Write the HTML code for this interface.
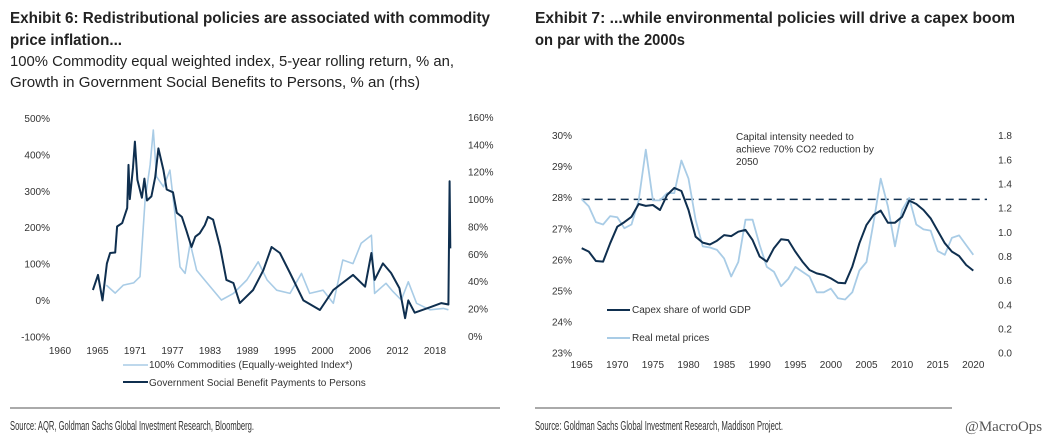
<!DOCTYPE html>
<html><head><meta charset="utf-8"><style>
html,body{margin:0;padding:0;background:#fff;}
svg{display:block;font-family:"Liberation Sans",sans-serif;}
</style></head><body>
<svg id="c" width="1063" height="443" viewBox="0 0 1063 443">
<g font-family="'Liberation Sans',sans-serif" fill="#222">
<text x="10" y="23" font-size="16" font-weight="bold" textLength="480" lengthAdjust="spacingAndGlyphs">Exhibit 6: Redistributional policies are associated with commodity</text>
<text x="10" y="45" font-size="16" font-weight="bold" textLength="112" lengthAdjust="spacingAndGlyphs">price inflation...</text>
<text x="10" y="66" font-size="15" textLength="444" lengthAdjust="spacingAndGlyphs">100% Commodity equal weighted index, 5-year rolling return, % an,</text>
<text x="10" y="87" font-size="15" textLength="410" lengthAdjust="spacingAndGlyphs">Growth in Government Social Benefits to Persons, % an (rhs)</text>
</g>
<g font-family="'Liberation Sans',sans-serif" fill="#222">
<text x="535" y="23" font-size="16" font-weight="bold" textLength="480" lengthAdjust="spacingAndGlyphs">Exhibit 7: ...while environmental policies will drive a capex boom</text>
<text x="535" y="45" font-size="16" font-weight="bold" textLength="150" lengthAdjust="spacingAndGlyphs">on par with the 2000s</text>
</g>
<g id="left"></g>
<g id="right"></g>
<line x1="10" y1="408" x2="500" y2="408" stroke="#555" stroke-width="1"/>
<line x1="535" y1="408" x2="952" y2="408" stroke="#555" stroke-width="1"/>
<text x="10" y="430" font-size="12.5" fill="#333" textLength="244" lengthAdjust="spacingAndGlyphs">Source: AQR, Goldman Sachs Global Investment Research, Bloomberg.</text>
<text x="535" y="430" font-size="12.5" fill="#333" textLength="248" lengthAdjust="spacingAndGlyphs">Source: Goldman Sachs Global Investment Research, Maddison Project.</text>
<text x="965" y="431" font-size="15" fill="#555" font-family="'Liberation Serif',serif">@MacroOps</text>
</svg>
<script>
// ---- Exhibit 6 data ----
const e6XTicks = ["1960","1965","1971","1977","1983","1989","1995","2000","2006","2012","2018"];
const e6LeftTicks = [500,400,300,200,100,0,-100];
const e6RightTicks = [160,140,120,100,80,60,40,20,0];
const commYears = [1966.3,1967.7,1969.0,1970.6,1971.6,1972.4,1973.2,1973.7,1974.2,1975.3,1976.3,1977.1,1977.9,1978.7,1979.5,1980.5,1982.0,1984.4,1986.3,1988.4,1990.2,1991.6,1993.1,1995.2,1997.0,1998.3,2000.4,2002.0,2003.5,2005.1,2006.4,2008.0,2008.5,2010.3,2011.4,2012.7,2013.8,2015.1,2017.2,2019.3,2020.1];
const commValues = [41,19,41,47,64,275,371,467,339,311,357,238,91,73,156,82,50,0,18,55,105,55,27,18,73,18,27,-9,110,100,156,178,18,46,23,0,50,-9,-27,-23,-27];
const govYears = [1964.2,1965.0,1965.7,1966.4,1966.9,1967.7,1968.0,1968.8,1969.6,1969.8,1970.0,1970.5,1970.8,1971.2,1971.9,1972.3,1972.7,1973.4,1974.0,1974.5,1975.3,1975.8,1976.8,1977.4,1978.2,1978.9,1979.7,1980.3,1981.0,1981.8,1982.3,1983.1,1984.2,1985.2,1986.3,1987.3,1989.4,1991.0,1992.3,1993.6,1995.2,1997.3,1999.9,2002.0,2005.1,2007.0,2008.0,2008.5,2009.8,2011.1,2012.4,2013.3,2013.8,2014.8,2017.2,2019.0,2020.1,2020.3,2020.4];
const govValues = [33.6,44.6,26,53,60.6,61,80,82.5,93.5,125,100,123,142,114,101,115,99,102,116,137,121,107,105,90,87,77,65,72.5,75,81,87,85,65,41,38.7,24,33.6,48,65,60.6,46,26,19,33.6,44.6,36,60.6,41,53,46,35,13,26,17,21,24,23,113,64];
// ---- Exhibit 7 data ----
const e7XTicks = [1965,1970,1975,1980,1985,1990,1995,2000,2005,2010,2015,2020];
const e7LeftTicks = [30,29,28,27,26,25,24,23];
const e7RightTicks = [1.8,1.6,1.4,1.2,1.0,0.8,0.6,0.4,0.2,0.0];
const capexYears = [1965,1966,1967,1968,1969,1970,1971,1972,1973,1974,1975,1976,1977,1978,1979,1980,1981,1982,1983,1984,1985,1986,1987,1988,1989,1990,1991,1992,1993,1994,1995,1996,1997,1998,1999,2000,2001,2002,2003,2004,2005,2006,2007,2008,2009,2010,2011,2012,2013,2014,2015,2016,2017,2018,2019,2020];
const capexValues = [26.36,26.25,25.95,25.93,26.52,27.05,27.2,27.37,27.78,27.72,27.75,27.59,28.07,28.3,28.2,27.59,26.73,26.54,26.48,26.6,26.78,26.75,26.89,26.95,26.62,26.09,25.93,26.36,26.65,26.62,26.25,25.93,25.66,25.55,25.5,25.39,25.25,25.23,25.77,26.52,27.11,27.43,27.57,27.18,27.18,27.37,27.89,27.78,27.59,27.32,26.92,26.52,26.25,26.11,25.82,25.64];
const metalYears = capexYears;
const metalValues = [1.27,1.21,1.08,1.06,1.13,1.12,1.03,1.06,1.26,1.68,1.26,1.26,1.32,1.32,1.59,1.44,1.1,0.88,0.87,0.85,0.78,0.63,0.75,1.1,1.1,0.89,0.71,0.67,0.55,0.61,0.71,0.67,0.63,0.5,0.5,0.53,0.45,0.44,0.5,0.68,0.75,1.08,1.44,1.21,0.88,1.18,1.28,1.06,1.02,1.01,0.84,0.81,0.95,0.97,0.89,0.81];
const targetCapex = 27.93;

const NS = "http://www.w3.org/2000/svg";
function mk(parent, tag, attrs, txt){
  const e = document.createElementNS(NS, tag);
  for (const k in attrs) e.setAttribute(k, attrs[k]);
  if (txt !== undefined) e.textContent = txt;
  parent.appendChild(e);
  return e;
}
function pathD(xs, ys, fx, fy){
  return xs.map((x,i)=>(i?"L":"M")+fx(x).toFixed(1)+","+fy(ys[i]).toFixed(1)).join("");
}

// ---- Exhibit 6 ----
const L = document.getElementById("left");
const x6 = y => 98 + (y - 1965) * (435 - 98) / (2018 - 1965);
const yl6 = v => 300 - v * 0.364;
const yr6 = v => 336 - v * 1.369;
e6LeftTicks.forEach(v => {
  const t = mk(L, "text", {x: 50, y: yl6(v) + 4, "font-size": 10, "text-anchor": "end", fill: "#333"}, v + "%");
  
  
});
e6RightTicks.forEach(v => {
  const t = mk(L, "text", {x: 468, y: yr6(v) + 4, "font-size": 10, fill: "#333"}, v + "%");
  
  
});
e6XTicks.forEach((s, i) => {
  const t = mk(L, "text", {x: 60 + i * 37.5, y: 354, "font-size": 10, "text-anchor": "middle", fill: "#333"}, s);
  
  
});
const cLine = mk(L, "path", {d: pathD(commYears, commValues, x6, yl6), fill: "none", stroke: "#a9cce6", "stroke-width": 1.6, "stroke-linejoin": "round"});


const gLine = mk(L, "path", {d: pathD(govYears, govValues, x6, yr6), fill: "none", stroke: "#0f2f4f", "stroke-width": 2, "stroke-linejoin": "round"});


const lg1 = mk(L, "line", {x1: 123, y1: 365, x2: 148, y2: 365, stroke: "#a9cce6", "stroke-width": 1.6});


const lt1 = mk(L, "text", {x: 149, y: 368, "font-size": 10, fill: "#333"}, "100% Commodities (Equally-weighted Index*)");


const lg2 = mk(L, "line", {x1: 123, y1: 382, x2: 148, y2: 382, stroke: "#0f2f4f", "stroke-width": 2});


const lt2 = mk(L, "text", {x: 149, y: 386, "font-size": 10, fill: "#333"}, "Government Social Benefit Payments to Persons");



// ---- Exhibit 7 ----
const R = document.getElementById("right");
const x7 = y => 581.7 + (y - 1965) * (973.3 - 581.7) / 55;
const yl7 = v => 135 + (30 - v) * 31.1;
const yr7 = v => 352.7 - v * 120.9;
e7LeftTicks.forEach(v => {
  const t = mk(R, "text", {x: 572, y: yl7(v) + 4, "font-size": 10, "text-anchor": "end", fill: "#333"}, v + "%");
  
  
});
e7RightTicks.forEach(v => {
  const t = mk(R, "text", {x: 1012, y: yr7(v) + 4, "font-size": 10, "text-anchor": "end", fill: "#333"}, v.toFixed(1));
  
  
});
e7XTicks.forEach(v => {
  const t = mk(R, "text", {x: x7(v), y: 368, "font-size": 10, "text-anchor": "middle", fill: "#333"}, String(v));
  
  
});
const tgt = mk(R, "line", {x1: x7(1965), y1: yl7(targetCapex), x2: 987, y2: yl7(targetCapex), stroke: "#0f2f4f", "stroke-width": 1.6, "stroke-dasharray": "8,5"});


const mLine = mk(R, "path", {d: pathD(metalYears, metalValues, x7, yr7), fill: "none", stroke: "#a9cce6", "stroke-width": 1.8, "stroke-linejoin": "round"});


const kLine = mk(R, "path", {d: pathD(capexYears, capexValues, x7, yl7), fill: "none", stroke: "#0f2f4f", "stroke-width": 2, "stroke-linejoin": "round"});


const ann = mk(R, "text", {x: 736, y: 140, "font-size": 10, fill: "#333"});


["Capital intensity needed  to", "achieve 70% CO2 reduction by", "2050"].forEach((s, i) => mk(ann, "tspan", {x: 736, dy: i ? 12.5 : 0}, s));
const rl1 = mk(R, "line", {x1: 607, y1: 310, x2: 630, y2: 310, stroke: "#0f2f4f", "stroke-width": 2});


const rt1 = mk(R, "text", {x: 632, y: 313, "font-size": 10, fill: "#333"}, "Capex share of world GDP");


const rl2 = mk(R, "line", {x1: 607, y1: 338, x2: 630, y2: 338, stroke: "#a9cce6", "stroke-width": 2});


const rt2 = mk(R, "text", {x: 632, y: 341, "font-size": 10, fill: "#333"}, "Real metal prices");


</script>
</body></html>
